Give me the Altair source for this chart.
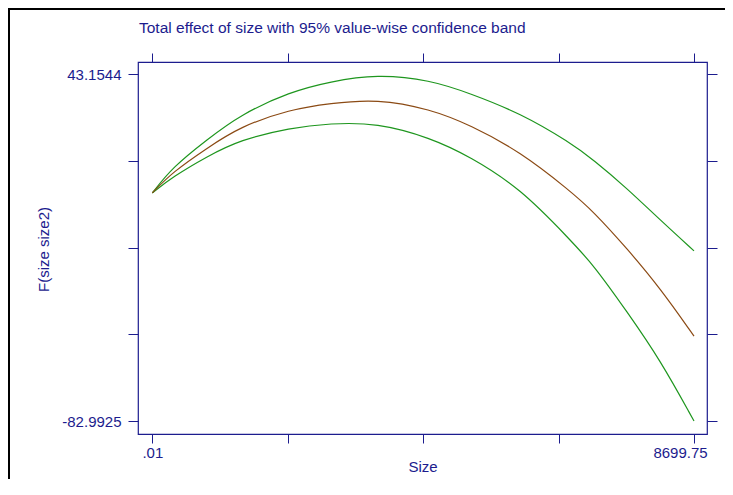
import altair as alt
import pandas as pd

# ---- data ----
size = [0.01, 332, 874, 1409, 2213, 2856, 3606, 4462, 5105, 5909, 6712, 7086, 7623, 8158, 8699.75]
upper = [0.0, 9.5, 19.3, 28.4, 36.8, 40.5, 43.15, 41.1, 36.2, 29.0, 18.3, 12.0, 1.7, -9.9, -21.1]
effect = [0.0, 7.7, 16.2, 24.1, 30.4, 32.6, 34.2, 30.5, 24.7, 15.0, 0.7, -6.8, -20.2, -34.7, -52.1]
lower = [0.0, 5.9, 13.2, 19.3, 23.7, 25.3, 25.5, 20.1, 13.2, 1.7, -17.1, -26.2, -43.2, -60.8, -82.99]

x_ticks = [0.01, 2174.945, 4349.88, 6524.815, 8699.75]
y_ticks = [43.1544, 11.617775, -19.919, -51.455775, -82.9925]
x_domain = [-229.6, 8908.5]
y_domain = [-87.72, 47.63]

title_text = "Total effect of size with 95% value-wise confidence band"
x_title = "Size"
y_title = "F(size size2)"

navy = "#1c1c8e"
green = "#1e961e"
brown = "#8b4a14"
font = "Liberation Sans"

rows = []
for name, vals in [("upper", upper), ("lower", lower), ("effect", effect)]:
    for s, v in zip(size, vals):
        rows.append({"series": name, "size": s, "value": v})
df = pd.DataFrame(rows)

xscale = alt.Scale(domain=x_domain, nice=False, zero=False)
yscale = alt.Scale(domain=y_domain, nice=False, zero=False)

axis_common = dict(domain=False, grid=False, tickColor=navy, tickWidth=1,
                   labelColor=navy, labelFont=font, labelFontSize=15,
                   titleColor=navy, titleFont=font, titleFontSize=15,
                   titleFontWeight="normal", labelOverlap=False, labelFlush=False)

axis_bottom = alt.Axis(values=x_ticks, tickSize=9, labelPadding=2,
                       labelExpr="datum.value < 1 ? '.01' : (datum.value > 8000 ? '8699.75' : '')",
                       labelOffset={"condition": {"test": "datum.value > 8000", "value": -14}, "value": 0},
                       title=x_title, titleX=284.5, titleY=32, titleAlign="center",
                       titleBaseline="middle", **axis_common)
axis_left = alt.Axis(values=y_ticks, tickSize=10, labelPadding=7,
                     labelExpr="datum.value > 40 ? '43.1544' : (datum.value < -80 ? '-82.9925' : '')",
                     title=y_title, titleX=-95, titleY=187, titleAngle=270,
                     titleAlign="center", titleBaseline="middle", **axis_common)
axis_top = alt.Axis(values=x_ticks, orient="top", tickSize=9, labels=False, title=None,
                    domain=False, grid=False, tickColor=navy, tickWidth=1)
axis_right = alt.Axis(values=y_ticks, orient="right", tickSize=10, labels=False, title=None,
                      domain=False, grid=False, tickColor=navy, tickWidth=1)

lines = alt.Chart(df).mark_line(strokeWidth=1.2, interpolate="basis").encode(
    x=alt.X("size:Q", scale=xscale, axis=axis_bottom),
    y=alt.Y("value:Q", scale=yscale, axis=axis_left),
    color=alt.Color("series:N", scale=alt.Scale(domain=["upper", "lower", "effect"],
                                                range=[green, green, brown]), legend=None),
)

ghost = alt.Chart(df).mark_line(opacity=0).encode(
    x=alt.X("size:Q", scale=xscale, axis=axis_top),
    y=alt.Y("value:Q", scale=yscale, axis=axis_right),
    detail="series:N",
)

title_mark = alt.Chart(pd.DataFrame({"t": [title_text]})).mark_text(
    align="left", baseline="alphabetic", font=font, fontSize=15.5, color=navy
).encode(text="t:N", x=alt.value(1), y=alt.value(-29.5))

border_left = alt.Chart(pd.DataFrame({"a": [0]})).mark_rule(color="black", strokeWidth=2).encode(
    x=alt.value(-129), y=alt.value(-54), y2=alt.value(480))
border_top = alt.Chart(pd.DataFrame({"a": [0]})).mark_rule(color="black", strokeWidth=2).encode(
    x=alt.value(-130), x2=alt.value(640), y=alt.value(-53))

chart = alt.layer(lines, ghost, title_mark, border_left, border_top).resolve_axis(
    x="independent", y="independent"
).properties(
    width=569, height=372,
    autosize=alt.AutoSizeParams(type="none"),
    padding={"left": 130, "top": 54, "right": 18, "bottom": 45},
    background="white",
).configure_view(stroke=navy, strokeWidth=1.2)

chart.save("out.html", embed_options={"renderer": "svg", "actions": False})
